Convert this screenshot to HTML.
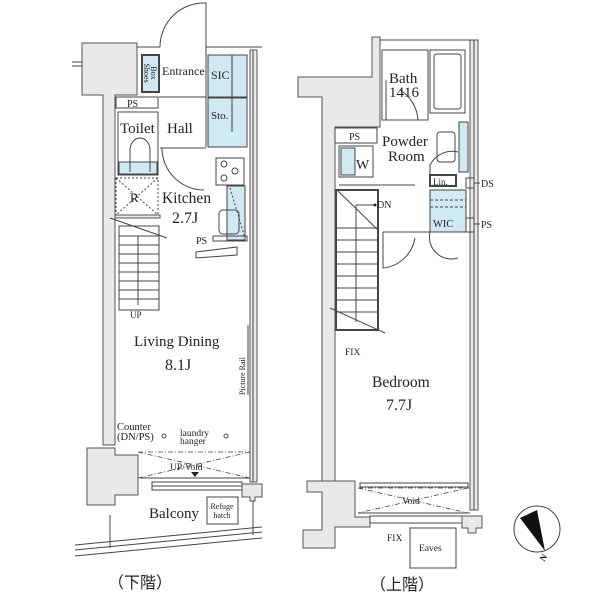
<!DOCTYPE html>
<html><head><meta charset="utf-8"><style>
body{margin:0;background:#fff}
svg{display:block}
text{font-family:"Liberation Serif",serif;fill:#222}
.w{fill:#e9e9e9;stroke:#555;stroke-width:1}
.l{fill:none;stroke:#444;stroke-width:1}
.b{fill:#cfe9f5;stroke:#444;stroke-width:1}
.d{fill:none;stroke:#444;stroke-width:.8;stroke-dasharray:5,2,1,2}
</style></head><body>
<svg width="600" height="600" viewBox="0 0 600 600">
<!-- ===== LOWER FLOOR ===== -->
<path class="w" d="M82,43 H137 V95 H115 V445 H103 V95 H82 Z"/>
<line class="l" x1="72" y1="62" x2="82" y2="62"/><line class="l" x1="72" y1="66" x2="82" y2="66"/>
<path class="w" d="M87,448 H115 V455 H138 V495 H115 V505 H87 Z"/>
<rect class="w" x="250" y="50" width="7" height="432"/>
<line class="l" x1="253" y1="50" x2="253" y2="482"/>
<line class="l" x1="137" y1="47" x2="160" y2="47"/><line class="l" x1="206" y1="47" x2="262" y2="47"/>
<path class="l" d="M206,47 V3 A44,44 0 0 0 160,47"/>
<rect class="b" x="142" y="55" width="17" height="37" style="stroke-width:2"/>
<text x="144" y="73" font-size="8" transform="rotate(90 144 73)" text-anchor="middle">Shoes</text>
<text x="151" y="73" font-size="8" transform="rotate(90 151 73)" text-anchor="middle">Box</text>
<text x="162" y="75" font-size="12">Entrance</text>
<rect class="b" x="208" y="55" width="39" height="42"/><line class="l" x1="232" y1="55" x2="232" y2="97"/>
<rect class="b" x="208" y="98" width="39" height="49"/><line class="l" x1="232" y1="98" x2="232" y2="132"/>
<text x="211" y="79" font-size="12">SIC</text><text x="211" y="119" font-size="11">Sto.</text>
<line class="l" x1="206" y1="47" x2="206" y2="147"/><line class="l" x1="159" y1="97" x2="206" y2="97"/>
<rect class="l" x="116" y="97" width="42" height="11"/><text x="127" y="107" font-size="10">PS</text>
<rect class="l" x="118" y="112" width="40" height="63"/>
<rect class="b" x="119" y="162" width="38" height="12"/>
<path class="l" d="M130,172 V150 A10,12 0 0 1 150,150 V172"/>
<text x="120" y="133" font-size="15">Toilet</text><text x="167" y="133" font-size="15">Hall</text>
<path class="l" d="M160,148 H206 M162,148 A42,42 0 0 0 204,190"/>
<rect class="l" x="116" y="178" width="42" height="37" style="stroke-dasharray:2,2"/>
<path class="l" d="M116,178 L158,215 M158,178 L116,215" style="stroke-dasharray:2,2"/>
<text x="130" y="202" font-size="13">R</text>
<rect class="w" x="115" y="215" width="45" height="3"/>
<text x="162" y="203" font-size="15.5">Kitchen</text><text x="172" y="223" font-size="16">2.7J</text>
<rect class="l" x="216" y="158" width="28" height="27"/>
<circle cx="224" cy="164" r="3" class="l"/><circle cx="235" cy="171" r="3" class="l"/><circle cx="224" cy="178" r="3" class="l"/>
<rect class="b" x="227" y="186" width="18" height="54"/>
<rect class="l" x="219" y="210" width="20" height="24" rx="4"/>
<path class="l" d="M230,188 L245,238" style="stroke-dasharray:2,2"/>
<text x="196" y="244" font-size="10">PS</text><rect class="l" x="213" y="236" width="34" height="5"/>
<path class="l" d="M196,252 L237,247 V255 L196,258 Z"/>
<!-- stairs -->
<rect class="l" x="119" y="226" width="40" height="84"/>
<g class="l"><path d="M119,236H159M119,245H159M119,254H159M119,263H159M119,272H159M119,281H159M119,290H159M119,299H159"/></g>
<line class="l" x1="138" y1="236" x2="138" y2="305"/>
<line class="l" x1="110" y1="218" x2="167" y2="238"/>
<text x="130" y="318" font-size="9">UP</text>
<text x="134" y="346" font-size="15">Living Dining</text><text x="165" y="370" font-size="16">8.1J</text>
<line class="l" x1="248" y1="325" x2="248" y2="395"/>
<text x="245" y="395" font-size="8" transform="rotate(-90 245 395)">Picture Rail</text>
<text x="117" y="430" font-size="10.5">Counter</text><text x="117" y="440" font-size="10.5">(DN/PS)</text>
<circle cx="164" cy="436" r="2" class="l"/><circle cx="226" cy="436" r="2" class="l"/>
<text x="180" y="436" font-size="9.5">laundry</text><text x="180" y="444" font-size="9.5">hanger</text>
<path class="d" d="M138,452 H250 M138,452 L250,478 M250,452 L138,478"/>
<line class="l" x1="140" y1="478" x2="250" y2="478"/>
<text x="170" y="470" font-size="9.5">UP/Void</text>
<path d="M191,472 h8 l-4,5 z" fill="#222"/>
<rect class="l" x="152" y="482" width="90" height="8"/><line class="l" x1="152" y1="486" x2="242" y2="486"/>
<path class="w" d="M242,484 H262 V497 H255 V501 H250 V497 H242 Z"/>
<line class="l" x1="110" y1="515" x2="110" y2="548"/><line class="l" x1="253" y1="501" x2="253" y2="535"/>
<text x="149" y="518" font-size="15">Balcony</text>
<rect class="l" x="207" y="497" width="31" height="27"/>
<text x="222" y="509" font-size="8" text-anchor="middle">Refuge</text><text x="222" y="518" font-size="8" text-anchor="middle">hatch</text>
<g class="l"><path d="M75,545 L262,527 M75,550 L262,532 M75,556 L262,538"/></g>
<text x="108" y="588" font-size="16" font-family="Noto Sans CJK JP">（下階）</text>
<!-- ===== UPPER FLOOR ===== -->
<path class="w" d="M298,77 H372 V37 H380 V127 H335 V492 H322 V97 H298 Z"/>
<rect class="w" x="470" y="40" width="8" height="470"/><line class="l" x1="474" y1="40" x2="474" y2="510"/>
<line class="l" x1="380" y1="40" x2="470" y2="40"/>
<rect class="l" x="382" y="50" width="46" height="70"/>
<rect class="l" x="430" y="50" width="35" height="63"/><rect class="l" x="434" y="54" width="27" height="55" rx="3"/>
<text x="389" y="83" font-size="15">Bath</text><text x="389" y="97" font-size="15">1416</text>
<path class="l" d="M386,120 V80 M418,120 A38,38 0 0 0 400,90"/>
<rect class="l" x="335" y="128" width="42" height="15"/><text x="349" y="140" font-size="10">PS</text>
<rect class="l" x="339" y="146" width="34" height="31"/><rect class="b" x="341" y="148" width="14" height="27"/>
<text x="356" y="169" font-size="14">W</text>
<line class="l" x1="339" y1="185" x2="415" y2="185"/>
<text x="382" y="146" font-size="15">Powder</text><text x="388" y="161" font-size="15">Room</text>
<rect class="b" x="459" y="122" width="9" height="50"/>
<rect class="l" x="437" y="132" width="18" height="30" rx="3"/>
<path class="l" d="M430,185 V165 A25,25 0 0 1 458,152"/>
<rect class="l" x="430" y="175" width="26" height="11" style="stroke-width:2"/><text x="433" y="185" font-size="9">Lin.</text>
<rect class="l" x="466" y="178" width="8" height="10"/><line class="l" x1="474" y1="183" x2="480" y2="183"/>
<text x="481" y="187" font-size="10">DS</text>
<rect class="b" x="430" y="190" width="36" height="42"/>
<path class="l" d="M430,200H466M430,207H466" style="stroke-dasharray:3,2"/>
<text x="433" y="227" font-size="10.5">WIC</text>
<rect class="l" x="466" y="218" width="8" height="14"/><line class="l" x1="474" y1="224" x2="480" y2="224"/>
<text x="481" y="228" font-size="10">PS</text>
<path class="l" d="M383,232 H470 M430,232 A22,22 0 0 0 458,258 M415,238 A36,36 0 0 1 383,268 V232"/>
<!-- stairs -->
<rect class="l" x="336" y="190" width="42" height="140" style="stroke-width:2"/>
<g class="l"><path d="M337,228H378M337,240H378M337,252H378M337,264H378M337,276H378M337,288H378M337,300H378M337,312H378"/></g>
<line class="l" x1="337" y1="190" x2="378" y2="230"/><line class="l" x1="356" y1="205" x2="356" y2="322"/>
<line class="l" x1="356" y1="205" x2="375" y2="205"/><circle cx="375" cy="205" r="1.5" fill="#222"/>
<text x="377" y="208" font-size="10">DN</text>
<line class="l" x1="330" y1="308" x2="385" y2="333"/>
<text x="345" y="355" font-size="9.5">FIX</text>
<text x="372" y="387" font-size="15.5">Bedroom</text><text x="386" y="410" font-size="16">7.7J</text>
<path class="w" d="M307,481 H355 V517 H370 V527 H335 V548 H303 V530 H322 V492 H307 Z"/>
<rect class="l" x="360" y="483" width="108" height="4"/>
<path class="d" d="M358,488 H470 M358,488 L468,513 M468,488 L358,513"/>
<line class="l" x1="358" y1="513" x2="470" y2="513"/><text x="402" y="504" font-size="9.5">Void</text>
<rect class="l" x="370" y="516" width="92" height="7"/>
<path class="w" d="M462,516 H482 V528 H476 V533 H468 V528 H462 Z"/>
<text x="387" y="541" font-size="9.5">FIX</text>
<rect class="l" x="410" y="528" width="46" height="40"/><text x="419" y="551" font-size="9.5">Eaves</text>
<text x="370" y="590" font-size="16" font-family="Noto Sans CJK JP">（上階）</text>
<!-- compass -->
<circle cx="537" cy="529" r="23" class="l"/>
<path d="M520,518 L537,510 L545,551 Z" fill="#111"/>
<text x="544" y="562" font-size="9" font-family="Liberation Sans" font-weight="bold" transform="rotate(-55 544 562)">N</text>
</svg>
</body></html>
